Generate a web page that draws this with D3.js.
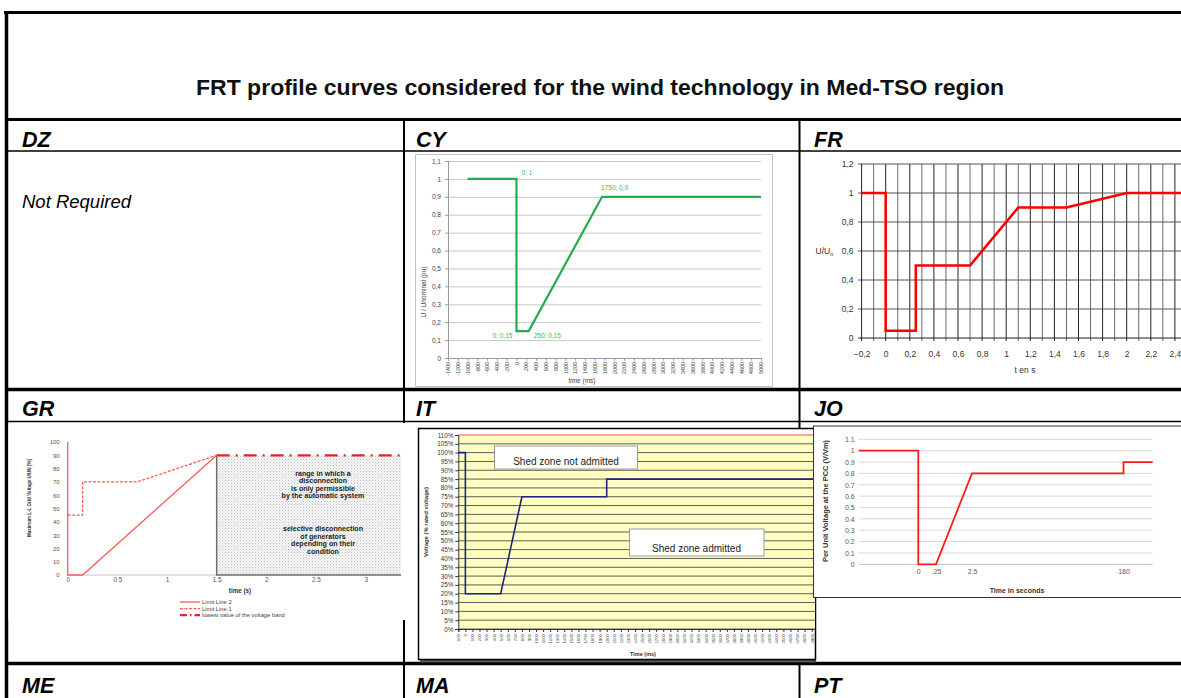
<!DOCTYPE html>
<html>
<head>
<meta charset="utf-8">
<script src="https://cdn.jsdelivr.net/npm/d3@7"></script>
<style>
  html, body { margin: 0; padding: 0; background: #fff; }
  svg { display: block; }
  text { font-family: Arial, "Liberation Sans", sans-serif; }
</style>
</head>
<body>
<svg id="chart" width="1181" height="698"></svg>
<script>
// ---------- table text ----------
const pageTitle = "FRT profile curves considered for the wind technology in Med-TSO region";
const rowCodes = [["DZ", "CY", "FR"], ["GR", "IT", "JO"], ["ME", "MA", "PT"]];
const dzNote = "Not Required";

// ---------- CY : U/Unominal (pu) vs time (ms) ----------
const cyTime = [-1000, 0, 0, 250, 1750, 5000];
const cyVoltage = [1, 1, 0.15, 0.15, 0.9, 0.9];
const cyLabelledPoints = [1, 2, 3, 4];
const cyYTicks = [0, 0.1, 0.2, 0.3, 0.4, 0.5, 0.6, 0.7, 0.8, 0.9, 1, 1.1];
const cyXTicks = [-1400, -1200, -1000, -800, -600, -400, -200, 0, 200, 400, 600, 800, 1000,
  1200, 1400, 1600, 1800, 2000, 2200, 2400, 2600, 2800, 3000, 3200, 3400, 3600, 3800, 4000,
  4200, 4400, 4600, 4800, 5000];

// ---------- FR : U/Un vs t (s) ----------
const frTime = [-0.2, 0, 0, 0.25, 0.25, 0.7, 1.1, 1.5, 2, 2.6];
const frVoltage = [1, 1, 0.05, 0.05, 0.5, 0.5, 0.9, 0.9, 1, 1];
const frXTicks = [-0.2, 0, 0.2, 0.4, 0.6, 0.8, 1, 1.2, 1.4, 1.6, 1.8, 2, 2.2, 2.4];
const frYTicks = [0, 0.2, 0.4, 0.6, 0.8, 1, 1.2];

// ---------- GR : voltage (%) vs time (s) ----------
const grLimit2Time = [0, 0, 0.15, 1.5];
const grLimit2Volt = [100, 0, 0, 90];
const grLimit1Time = [0, 0.15, 0.15, 0.7, 1.5];
const grLimit1Volt = [45, 45, 70, 70, 90];
const grBandTime = [1.5, 3.5];
const grBandVolt = [90, 90];
const grXTicks = [0, 0.5, 1, 1.5, 2, 2.5, 3, 3.5];
const grYTicks = [0, 10, 20, 30, 40, 50, 60, 70, 80, 90, 100];
const grZoneTop = ["range in which a", "disconnection", "is only permissible", "by the automatic system"];
const grZoneBottom = ["selective disconnection", "of generators", "depending on their", "condition"];
const grLegend = ["Limit Line 2", "Limit Line 1", "lowest value of the voltage band"];

// ---------- IT : voltage (% rated) vs time (ms) ----------
const itTime = [-100, 0, 0, 500, 800, 2000, 2000, 5000];
const itVoltage = [100, 100, 20, 20, 75, 75, 85, 85];
const itYTicks = [0, 5, 10, 15, 20, 25, 30, 35, 40, 45, 50, 55, 60, 65, 70, 75, 80, 85, 90, 95, 100, 105, 110];
const itXTicks = [-100, 0, 100, 200, 300, 400, 500, 600, 700, 800, 900, 1000, 1100, 1200, 1300,
  1400, 1500, 1600, 1700, 1800, 1900, 2000, 2100, 2200, 2300, 2400, 2500, 2600, 2700, 2800,
  2900, 3000, 3100, 3200, 3300, 3400, 3500, 3600, 3700, 3800, 3900, 4000, 4100, 4200, 4300,
  4400, 4500, 4600, 4700, 4800, 4900];
const itZones = ["Shed zone not admitted", "Shed zone admitted"];

// ---------- JO : per unit voltage vs time (s), uneven time axis ----------
const joTime = [-1, 0, 0, 0.25, 2.5, 180, 180, 200];
const joVoltage = [1, 1, 0, 0, 0.8, 0.8, 0.9, 0.9];
const joXTicks = [0, 0.25, 2.5, 180];
const joXTickLabels = ["0", ".25", "2.5", "180"];
const joYTicks = [0, 0.1, 0.2, 0.3, 0.4, 0.5, 0.6, 0.7, 0.8, 0.9, 1, 1.1];

// ---------------------------------------------------------------
const svg = d3.select("#chart");
const defs = svg.append("defs");
svg.append("rect").attr("width", 1181).attr("height", 698).attr("fill", "#fff");

const commaLocale = d3.formatLocale({ decimal: ",", thousands: ".", grouping: [3], currency: ["", ""] });
const fmtComma = commaLocale.format("~g");
const fmtDot = d3.format("~g");
const HEAD_FONT = "Lato, 'Open Sans', 'DejaVu Sans', sans-serif";

// ---------- table grid ----------
const grid = svg.append("g").attr("stroke", "#000");
grid.append("line").attr("x1", 4).attr("x2", 1181).attr("y1", 12.5).attr("y2", 12.5).attr("stroke-width", 3);
grid.append("line").attr("x1", 6.5).attr("x2", 6.5).attr("y1", 11).attr("y2", 698).attr("stroke-width", 3.5);
[[119.5, 3], [151, 1.5], [389.5, 3.5], [421.5, 1.5], [663.5, 3.5]].forEach(([y, w]) =>
  grid.append("line").attr("x1", 6).attr("x2", 1181).attr("y1", y).attr("y2", y).attr("stroke-width", w));
[404, 799.5].forEach(x =>
  grid.append("line").attr("x1", x).attr("x2", x).attr("y1", 119).attr("y2", 698).attr("stroke-width", 2));

// ---------- titles ----------
svg.append("text").attr("x", 600).attr("y", 95).attr("text-anchor", "middle")
  .attr("font-family", HEAD_FONT).attr("font-weight", "bold").attr("font-size", 21.5)
  .attr("textLength", 808).attr("lengthAdjust", "spacingAndGlyphs").attr("fill", "#111")
  .text(pageTitle);

const colTextX = [22, 416, 814];
const rowTextY = [147, 416, 693];
rowCodes.forEach((row, i) => row.forEach((code, j) =>
  svg.append("text").attr("x", colTextX[j]).attr("y", rowTextY[i])
    .attr("font-family", HEAD_FONT).attr("font-weight", "bold").attr("font-style", "italic")
    .attr("font-size", 21.5).attr("fill", "#000").text(code)));

svg.append("text").attr("x", 22).attr("y", 208).attr("font-family", HEAD_FONT)
  .attr("font-style", "italic").attr("font-size", 18.5).attr("fill", "#000").text(dzNote);

// ================= CY =================
{
  const g = svg.append("g");
  g.append("rect").attr("x", 415.5).attr("y", 154.5).attr("width", 357).attr("height", 232)
    .attr("fill", "#fff").attr("stroke", "#c4c4c4");
  const x = d3.scaleLinear().domain([-1400, 5000]).range([448, 761]);
  const y = d3.scaleLinear().domain([0, 1.1]).range([358, 161]);

  g.append("g").attr("transform", "translate(448,0)")
    .call(d3.axisLeft(y).tickValues(cyYTicks.slice(1)).tickSize(-313).tickFormat(""))
    .call(a => a.select(".domain").remove())
    .selectAll("line").attr("stroke", "#c8c8c8");

  const ya = g.append("g").attr("transform", "translate(448,0)")
    .call(d3.axisLeft(y).tickValues(cyYTicks).tickFormat(fmtComma).tickSize(3).tickPadding(4));
  ya.selectAll("path,line").attr("stroke", "#9a9a9a");
  ya.selectAll("text").attr("font-size", 6.5).attr("fill", "#444");

  const xa = g.append("g").attr("transform", "translate(0,358)")
    .call(d3.axisBottom(x).tickValues(cyXTicks).tickFormat(d => d).tickSize(3));
  xa.selectAll("path,line").attr("stroke", "#9a9a9a");
  xa.selectAll("text").attr("font-size", 5.4).attr("fill", "#444")
    .attr("text-anchor", "end").attr("transform", "rotate(-90)")
    .attr("x", -4).attr("y", 0).attr("dy", "0.32em");

  g.append("text").attr("x", 582).attr("y", 383).attr("text-anchor", "middle")
    .attr("font-size", 6.5).attr("fill", "#444").text("time (ms)");
  g.append("text").attr("transform", "translate(426,292) rotate(-90)").attr("text-anchor", "middle")
    .attr("font-size", 6.5).attr("fill", "#444").text("U / Unominal (pu)");

  const pts = cyTime.map((t, i) => [t, cyVoltage[i]]);
  g.append("path").datum(pts)
    .attr("d", d3.line().x(d => x(d[0])).y(d => y(d[1])))
    .attr("fill", "none").attr("stroke", "#22ad4c").attr("stroke-width", 2.2);

  // point annotations "time; value"
  const offsets = { 1: [5, -4, "start"], 2: [-4, 7, "end"], 3: [5, 7, "start"], 4: [-1, -7, "start"] };
  cyLabelledPoints.forEach(i => {
    const [dx, dy, anchor] = offsets[i];
    g.append("text").attr("x", x(cyTime[i]) + dx).attr("y", y(cyVoltage[i]) + dy)
      .attr("text-anchor", anchor).attr("font-size", 6.5).attr("fill", "#3cba5a")
      .text(`${cyTime[i]}; ${fmtComma(cyVoltage[i])}`);
  });
}

// ================= FR =================
{
  const g = svg.append("g");
  const x = d3.scaleLinear().domain([-0.2, 2.6]).range([861.6, 1199]);
  const y = d3.scaleLinear().domain([0, 1.2]).range([338, 164]);
  const vGrid = d3.range(-1, 27).map(i => i / 10);

  g.selectAll("line.v").data(vGrid).join("line")
    .attr("x1", d => x(d)).attr("x2", d => x(d)).attr("y1", 164).attr("y2", 341)
    .attr("stroke", (d, i) => (i % 2 === 1 ? "#222" : "#6a6a6a")).attr("stroke-width", 1);
  g.selectAll("line.h").data(frYTicks).join("line")
    .attr("x1", 858).attr("x2", 1181).attr("y1", d => y(d)).attr("y2", d => y(d))
    .attr("stroke", d => (d === 0 ? "#222" : "#555")).attr("stroke-width", 1);
  g.append("line").attr("x1", 861.6).attr("x2", 861.6).attr("y1", 164).attr("y2", 341)
    .attr("stroke", "#222");

  const ya = g.append("g").attr("transform", "translate(861.6,0)")
    .call(d3.axisLeft(y).tickValues(frYTicks).tickFormat(fmtComma).tickSize(0).tickPadding(8));
  ya.select(".domain").remove();
  ya.selectAll("text").attr("font-size", 8.5).attr("fill", "#333");

  const xa = g.append("g").attr("transform", "translate(0,338)")
    .call(d3.axisBottom(x).tickValues(frXTicks).tickFormat(fmtComma).tickSize(0).tickPadding(13));
  xa.select(".domain").remove();
  xa.selectAll("text").attr("font-size", 8.5).attr("fill", "#333");

  const lbl = g.append("text").attr("x", 815.5).attr("y", 254).attr("font-size", 8.5).attr("fill", "#333");
  lbl.append("tspan").text("U/U");
  lbl.append("tspan").attr("font-size", 5.5).attr("dy", 2).text("n");
  g.append("text").attr("x", 1025).attr("y", 373).attr("text-anchor", "middle")
    .attr("font-size", 8.5).attr("fill", "#333").text("t en s");

  const pts = frTime.map((t, i) => [t, frVoltage[i]]);
  g.append("path").datum(pts)
    .attr("d", d3.line().x(d => x(d[0])).y(d => y(d[1])))
    .attr("fill", "none").attr("stroke", "#ff0000").attr("stroke-width", 2.6)
    .attr("stroke-linejoin", "miter");
}

// ================= GR =================
{
  defs.append("clipPath").attr("id", "grClip").append("rect")
    .attr("x", 8).attr("y", 423).attr("width", 393).attr("height", 198);
  const pat = defs.append("pattern").attr("id", "grDots").attr("patternUnits", "userSpaceOnUse")
    .attr("width", 3).attr("height", 3);
  pat.append("rect").attr("width", 3).attr("height", 3).attr("fill", "#f4f4f4");
  pat.append("rect").attr("width", 1).attr("height", 1).attr("fill", "#c2c2c2");
  pat.append("rect").attr("x", 1.5).attr("y", 1.5).attr("width", 1).attr("height", 1).attr("fill", "#dadada");

  svg.append("rect").attr("x", 8.5).attr("y", 423).attr("width", 397).attr("height", 197).attr("fill", "#fff");
  const g = svg.append("g").attr("clip-path", "url(#grClip)");
  const x = d3.scaleLinear().domain([0, 3.5]).range([67.7, 415.3]);
  const y = d3.scaleLinear().domain([0, 100]).range([575, 442]);

  // zone of selective disconnection
  g.append("rect").attr("x", x(1.5)).attr("y", y(90)).attr("width", x(3.5) - x(1.5))
    .attr("height", y(0) - y(90)).attr("fill", "url(#grDots)");
  g.append("line").attr("x1", x(0)).attr("x2", x(1.5)).attr("y1", y(0)).attr("y2", y(0))
    .attr("stroke", "#c8c8c8");
  g.append("path").attr("d", `M${x(1.5)},${y(90)}V${y(0)}H${x(3.5)}`)
    .attr("fill", "none").attr("stroke", "#6e6e6e").attr("stroke-width", 1.5);

  const zx = 323;
  grZoneTop.forEach((t, i) => g.append("text").attr("x", zx).attr("y", 475.5 + i * 7.6)
    .attr("text-anchor", "middle").attr("font-size", 7.1).attr("font-weight", "bold")
    .attr("fill", "#222").text(t));
  grZoneBottom.forEach((t, i) => g.append("text").attr("x", zx).attr("y", 531 + i * 7.6)
    .attr("text-anchor", "middle").attr("font-size", 7.1).attr("font-weight", "bold")
    .attr("fill", "#222").text(t));

  const line = d3.line().x(d => x(d[0])).y(d => y(d[1]));
  const series = [
    { t: grLimit2Time, v: grLimit2Volt, color: "#ff5a5a", w: 1.3, dash: null },
    { t: grLimit1Time, v: grLimit1Volt, color: "#ff5a5a", w: 1.3, dash: "3,1.5" },
    { t: grBandTime, v: grBandVolt, color: "#e02828", w: 2.2, dash: "13,6,2,6" }
  ];
  series.forEach(s => g.append("path").datum(s.t.map((t, i) => [t, s.v[i]]))
    .attr("d", line).attr("fill", "none").attr("stroke", s.color)
    .attr("stroke-width", s.w).attr("stroke-dasharray", s.dash));

  const ya = g.append("g").attr("transform", `translate(${x(0)},0)`)
    .call(d3.axisLeft(y).tickValues(grYTicks).tickSize(0).tickPadding(8));
  ya.select(".domain").remove();
  ya.selectAll("text").attr("font-size", 6).attr("fill", "#555");
  const xa = g.append("g").attr("transform", `translate(0,${y(0)})`)
    .call(d3.axisBottom(x).tickValues(grXTicks).tickFormat(fmtDot).tickSize(0).tickPadding(3));
  xa.select(".domain").remove();
  xa.selectAll("text").attr("font-size", 6.3).attr("fill", "#555");

  g.append("text").attr("x", 240).attr("y", 593).attr("text-anchor", "middle")
    .attr("font-size", 6.3).attr("font-weight", "bold").attr("fill", "#333").text("time (s)");
  g.append("text").attr("transform", "translate(31,498) rotate(-90)").attr("text-anchor", "middle")
    .attr("font-size", 6).attr("font-weight", "bold").attr("fill", "#333")
    .attr("textLength", 78).attr("lengthAdjust", "spacingAndGlyphs")
    .text("Maximum L-L Grid Voltage U/UN [%]");

  grLegend.forEach((name, i) => {
    const s = series[i];
    const ly = 602 + i * 6.6;
    g.append("line").attr("x1", 180).attr("x2", 200).attr("y1", ly).attr("y2", ly)
      .attr("stroke", s.color).attr("stroke-width", s.w)
      .attr("stroke-dasharray", i === 2 ? "7,3,1.5,3" : s.dash);
    g.append("text").attr("x", 202).attr("y", ly + 2).attr("font-size", 5.8)
      .attr("fill", "#444").text(name);
  });
}

// ================= IT =================
{
  defs.append("clipPath").attr("id", "itClip").append("rect")
    .attr("x", 419).attr("y", 429).attr("width", 396).attr("height", 231);
  svg.append("rect").attr("x", 420).attr("y", 431).attr("width", 396).attr("height", 231.5).attr("fill", "#555");
  svg.append("rect").attr("x", 418.5).attr("y", 428.5).attr("width", 397).attr("height", 231)
    .attr("fill", "#fff").attr("stroke", "#000").attr("stroke-width", 1.5);
  const g = svg.append("g").attr("clip-path", "url(#itClip)");
  const x = d3.scaleLinear().domain([-100, 5000]).range([458.3, 818.7]);
  const y = d3.scaleLinear().domain([0, 110]).range([629, 435]);

  g.append("rect").attr("x", 458.3).attr("y", y(110)).attr("width", 360).attr("height", y(0) - y(110))
    .attr("fill", "#ffffc4");
  g.selectAll("line.h").data(itYTicks).join("line")
    .attr("x1", 458.3).attr("x2", 818).attr("y1", d => y(d)).attr("y2", d => y(d))
    .attr("stroke", d => (d === 110 ? "#ff8a7a" : "#5e5e52")).attr("stroke-width", d => (d === 110 ? 1.5 : 1));

  const ya = g.append("g").attr("transform", "translate(458.3,0)")
    .call(d3.axisLeft(y).tickValues(itYTicks).tickFormat(d => d + "%").tickSize(3).tickPadding(2));
  ya.selectAll("path,line").attr("stroke", "#333");
  ya.selectAll("text").attr("font-size", 6.3).attr("fill", "#333");

  const xa = g.append("g").attr("transform", "translate(0,629)")
    .call(d3.axisBottom(x).tickValues(itXTicks).tickFormat(d => d).tickSize(3));
  xa.selectAll("path,line").attr("stroke", "#333");
  xa.selectAll("text").attr("font-size", 4.3).attr("fill", "#444")
    .attr("text-anchor", "end").attr("transform", "rotate(-90)")
    .attr("x", -5).attr("y", 0).attr("dy", "0.32em");

  g.append("text").attr("x", 643).attr("y", 656).attr("text-anchor", "middle")
    .attr("font-size", 5.5).attr("font-weight", "bold").attr("fill", "#333").text("Time (ms)");
  g.append("text").attr("transform", "translate(428,522) rotate(-90)").attr("text-anchor", "middle")
    .attr("font-size", 5.5).attr("font-weight", "bold").attr("fill", "#333")
    .attr("textLength", 70).attr("lengthAdjust", "spacingAndGlyphs").text("Voltage (% rated voltage)");

  const pts = itTime.map((t, i) => [t, itVoltage[i]]);
  g.append("path").datum(pts)
    .attr("d", d3.line().x(d => x(d[0])).y(d => y(d[1])))
    .attr("fill", "none").attr("stroke", "#23237f").attr("stroke-width", 1.6);

  const boxes = [
    { x: 494.5, y: 446, w: 143, h: 23, tx: 566, ty: 464.5 },
    { x: 629.5, y: 529, w: 134.5, h: 27, tx: 696.5, ty: 551.5 }
  ];
  itZones.forEach((name, i) => {
    const b = boxes[i];
    g.append("rect").attr("x", b.x).attr("y", b.y).attr("width", b.w).attr("height", b.h)
      .attr("fill", "#fff").attr("stroke", "#9a9a9a");
    g.append("text").attr("x", b.tx).attr("y", b.ty).attr("text-anchor", "middle")
      .attr("font-family", HEAD_FONT).attr("font-size", 10).attr("fill", "#222").text(name);
  });
}

// ================= JO =================
{
  svg.append("rect").attr("x", 813.5).attr("y", 426).attr("width", 370).attr("height", 171.5)
    .attr("fill", "#fff").attr("stroke", "#333").attr("stroke-width", 1);
  const g = svg.append("g");
  const x = d3.scaleLinear().domain([-1, 0, 0.25, 2.5, 180, 200])
    .range([858.7, 918.3, 936, 972, 1123.5, 1152.7]);
  const y = d3.scaleLinear().domain([0, 1.1]).range([564.3, 439.3]);

  g.selectAll("line.h").data(joYTicks).join("line")
    .attr("x1", 858.7).attr("x2", 1152.7).attr("y1", d => y(d)).attr("y2", d => y(d))
    .attr("stroke", d => (d === 0 ? "#bdbdbd" : "#d9d9d9")).attr("stroke-width", 1);

  const ya = g.append("g").attr("transform", "translate(858.7,0)")
    .call(d3.axisLeft(y).tickValues(joYTicks).tickFormat(fmtDot).tickSize(0).tickPadding(4));
  ya.select(".domain").remove();
  ya.selectAll("text").attr("font-size", 7).attr("fill", "#595959");

  const xa = g.append("g").attr("transform", "translate(0,564.3)")
    .call(d3.axisBottom(x).tickValues(joXTicks).tickFormat((d, i) => joXTickLabels[i]).tickSize(0).tickPadding(5));
  xa.select(".domain").remove();
  xa.selectAll("text").attr("font-size", 7).attr("fill", "#595959");

  g.append("text").attr("x", 1017).attr("y", 592.5).attr("text-anchor", "middle")
    .attr("font-size", 7).attr("font-weight", "bold").attr("fill", "#333").text("Time in seconds");
  g.append("text").attr("transform", "translate(828,501) rotate(-90)").attr("text-anchor", "middle")
    .attr("font-size", 7).attr("font-weight", "bold").attr("fill", "#333")
    .attr("textLength", 122).attr("lengthAdjust", "spacingAndGlyphs")
    .text("Per Unit Voltage at the PCC (V/Vm)");

  const pts = joTime.map((t, i) => [t, joVoltage[i]]);
  g.append("path").datum(pts)
    .attr("d", d3.line().x(d => x(d[0])).y(d => y(d[1])))
    .attr("fill", "none").attr("stroke", "#ff1a1a").attr("stroke-width", 1.8);
}
</script>
</body>
</html>
